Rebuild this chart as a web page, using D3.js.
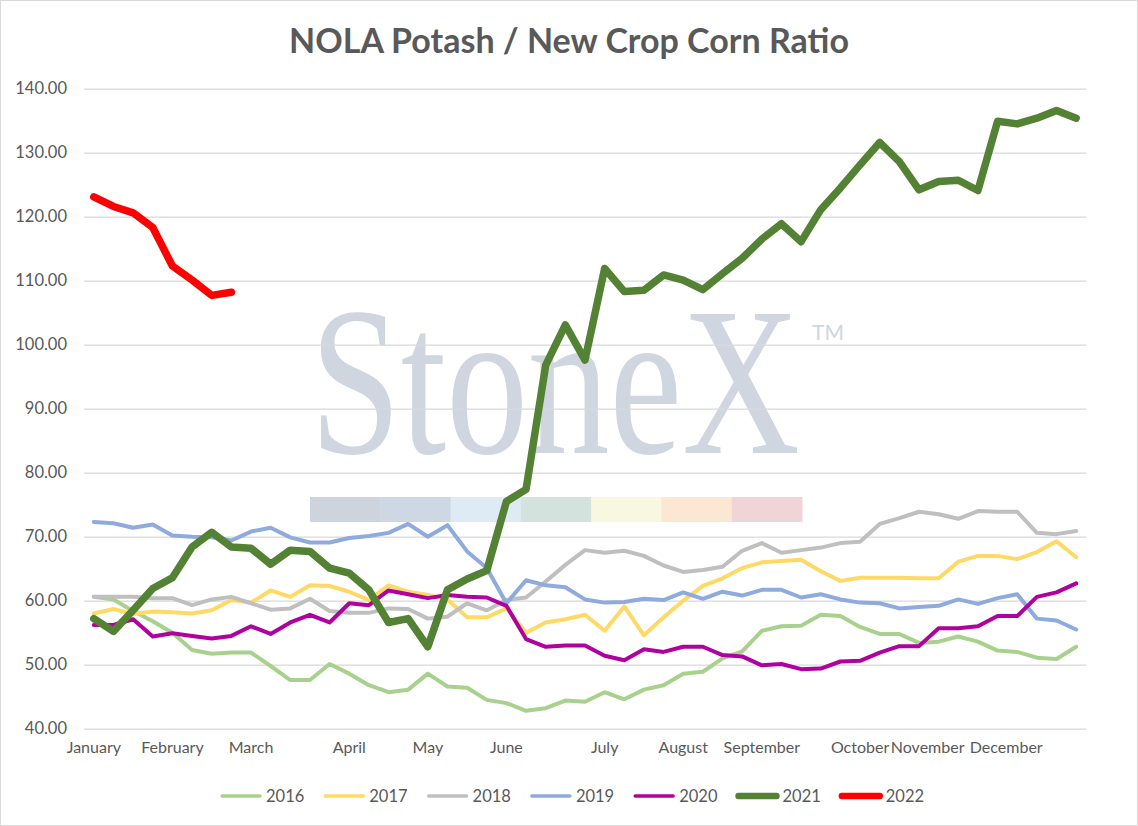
<!DOCTYPE html>
<head>
  <script src="https://d3js.org/d3.v7.min.js"></script>
  <style>
    body {
      margin: 0;
      overflow: hidden;
      background: #fff;
    }
    text {
      font-family: Lato, 'Liberation Sans', sans-serif;
      fill: #595959;
    }
  </style>
</head>
<body>
  <svg width="1138" height="826"></svg>
  <script>
    // weekly categories, month name on the first week of each month
    const weeks = [
      'January', '', '', '', 'February', '', '', '', 'March', '', '', '', '',
      'April', '', '', '', 'May', '', '', '', 'June', '', '', '', '',
      'July', '', '', '', 'August', '', '', '', 'September', '', '', '', '',
      'October', '', '', '', 'November', '', '', '', 'December', '', '', ''
    ];

    const years = ['2016', '2017', '2018', '2019', '2020', '2021', '2022'];

    const y2016 = [60.6, 60.2, 58.4, 56.8, 55.0, 52.3, 51.7, 51.9, 51.9, 49.8, 47.6, 47.6, 50.1,
      48.6, 46.8, 45.7, 46.1, 48.6, 46.6, 46.4, 44.5, 44.0, 42.8, 43.2, 44.4, 44.2, 45.7,
      44.6, 46.1, 46.8, 48.6, 48.9, 51.0, 52.1, 55.3, 56.0, 56.1, 57.8, 57.6, 55.9, 54.8,
      54.8, 53.4, 53.6, 54.4, 53.6, 52.2, 52.0, 51.1, 50.9, 52.8];
    const y2017 = [58.0, 58.7, 57.9, 58.3, 58.2, 58.0, 58.5, 60.1, 59.7, 61.6, 60.6, 62.4, 62.3,
      61.4, 60.1, 62.4, 61.4, 60.9, 60.2, 57.4, 57.4, 58.8, 55.0, 56.6, 57.1, 57.8, 55.3,
      59.1, 54.6, 57.4, 60.0, 62.3, 63.5, 65.1, 66.0, 66.2, 66.4, 64.6, 63.1, 63.6, 63.6,
      63.6, 63.5, 63.5, 66.1, 67.0, 67.0, 66.5, 67.6, 69.3, 66.8];
    const y2018 = [60.6, 60.6, 60.6, 60.4, 60.4, 59.3, 60.2, 60.6, 59.6, 58.6, 58.8, 60.3, 58.4,
      58.1, 58.1, 58.8, 58.7, 57.2, 57.5, 59.6, 58.5, 60.1, 60.5, 63.0, 65.6, 67.9, 67.5,
      67.8, 67.0, 65.5, 64.5, 64.8, 65.3, 67.8, 69.0, 67.5, 67.9, 68.3, 69.0, 69.2, 72.0,
      72.9, 73.9, 73.5, 72.8, 74.0, 73.9, 73.9, 70.6, 70.4, 70.9];
    const y2019 = [72.3, 72.1, 71.4, 71.9, 70.2, 70.0, 69.9, 69.4, 70.8, 71.4, 69.9, 69.1, 69.1,
      69.8, 70.1, 70.6, 72.0, 70.0, 71.8, 67.7, 65.1, 59.6, 63.2, 62.4, 62.1, 60.2, 59.7,
      59.8, 60.3, 60.1, 61.3, 60.3, 61.4, 60.8, 61.7, 61.7, 60.5, 61.0, 60.2, 59.7, 59.6,
      58.8, 59.0, 59.2, 60.2, 59.5, 60.4, 61.0, 57.2, 56.9, 55.5];
    const y2020 = [56.2, 56.2, 57.1, 54.4, 54.9, 54.5, 54.1, 54.5, 56.0, 54.8, 56.6, 57.8, 56.6,
      59.6, 59.3, 61.6, 61.0, 60.4, 60.9, 60.6, 60.5, 59.2, 54.0, 52.8, 53.0, 53.0, 51.4,
      50.7, 52.4, 52.0, 52.8, 52.8, 51.5, 51.3, 49.9, 50.1, 49.3, 49.4, 50.5, 50.6, 51.9,
      52.9, 52.9, 55.7, 55.7, 56.0, 57.6, 57.6, 60.6, 61.3, 62.7];
    const y2021 = [57.2, 55.2, 58.5, 61.9, 63.6, 68.4, 70.7, 68.4, 68.2, 65.7, 67.9, 67.7, 65.1,
      64.3, 61.7, 56.6, 57.2, 52.8, 61.7, 63.4, 64.7, 75.5, 77.4, 96.8, 103.1, 97.6, 111.9,
      108.3, 108.5, 110.9, 110.1, 108.6, 111.1, 113.5, 116.5, 118.9, 116.1, 121.1, 124.5, 128.1, 131.6,
      128.6, 124.2, 125.5, 125.7, 124.1, 134.9, 134.5, 135.4, 136.6, 135.4];
    const y2022 = [123.1, 121.6, 120.6, 118.3, 112.3, 110.1, 107.7, 108.2];

    const yTicks = [40, 50, 60, 70, 80, 90, 100, 110, 120, 130, 140];

    const seriesValues = [y2016, y2017, y2018, y2019, y2020, y2021, y2022];
    const colors = ['#a9d18e', '#ffd966', '#bfbfbf', '#8faadc', '#b0009f', '#548235', '#ff0000'];
    const widths = [4, 4, 4, 4, 4, 7.5, 7.5];
    const bandColors = ['#cdd4de', '#ced8e5', '#deeaf4', '#d3e2dc', '#f8f7e0', '#fbe7d2', '#f0d4d8'];

    const svg = d3.select('svg');
    const width = +svg.attr('width');
    const height = +svg.attr('height');

    svg.append('rect')
      .attr('x', 0.5).attr('y', 0.5)
      .attr('width', width - 1).attr('height', height - 1)
      .attr('fill', '#fff')
      .attr('stroke', '#d9d9d9');

    const xScale = d3.scaleBand()
      .domain(d3.range(weeks.length))
      .range([84, 1086]);
    const xPos = i => xScale(i) + xScale.bandwidth() / 2;

    const yScale = d3.scaleLinear()
      .domain([40, 140])
      .range([728.7, 88.7]);

    // watermark - squeeze the serif word into the logo box
    const wm = svg.append('g');
    const logo = wm.append('text')
      .style('font-family', "'Liberation Serif', 'DejaVu Serif', serif")
      .style('font-size', '212px')
      .style('fill', '#cfd6df')
      .text('StoneX');
    const logoW = logo.node().getComputedTextLength();
    logo.attr('transform', `translate(310,453) scale(${490 / logoW},1)`);
    wm.append('text')
      .attr('x', 812).attr('y', 340)
      .style('font-size', '21px')
      .style('fill', '#cfd6df')
      .text('TM');
    const bandW = (802 - 310) / bandColors.length;
    wm.selectAll('rect').data(bandColors)
      .enter().append('rect')
        .attr('x', (d, i) => 310 + i * bandW)
        .attr('y', 497)
        .attr('width', bandW + 0.5)
        .attr('height', 25)
        .attr('fill', d => d);

    // gridlines + y labels
    const yAxisG = svg.append('g')
      .attr('transform', 'translate(84,0)')
      .call(d3.axisLeft(yScale)
        .tickValues(yTicks)
        .tickFormat(d3.format('.2f'))
        .tickSize(-(1086 - 84))
        .tickPadding(17));
    yAxisG.select('.domain').remove();
    yAxisG.selectAll('.tick line')
      .attr('stroke', '#d9d9d9')
      .attr('stroke-width', 1.3);
    yAxisG.selectAll('.tick text')
      .style('font-size', '16.5px')
      .style('fill', '#595959');

    // x labels
    const monthShift = { November: -11, December: -11 };
    const xAxisG = svg.append('g')
      .attr('transform', 'translate(0,728.7)')
      .call(d3.axisBottom(xScale)
        .tickFormat(i => weeks[i])
        .tickSize(0)
        .tickPadding(13));
    xAxisG.select('.domain').remove();
    xAxisG.selectAll('.tick text')
      .style('font-size', '16px')
      .style('fill', '#595959')
      .attr('dx', i => monthShift[weeks[i]] || 0);

    // lines
    const line = d3.line()
      .x((d, i) => xPos(i))
      .y(d => yScale(d));

    svg.append('g').selectAll('path').data(seriesValues)
      .enter().append('path')
        .attr('d', d => line(d))
        .attr('fill', 'none')
        .attr('stroke', (d, i) => colors[i])
        .attr('stroke-width', (d, i) => widths[i])
        .attr('stroke-linejoin', 'round')
        .attr('stroke-linecap', 'round');

    // title
    svg.append('text')
      .attr('x', 569).attr('y', 53)
      .attr('text-anchor', 'middle')
      .style('font-size', '34px')
      .style('font-weight', 'bold')
      .text('NOLA Potash / New Crop Corn Ratio');

    // legend
    const legend = svg.append('g')
      .selectAll('g').data(years)
      .enter().append('g')
        .attr('transform', (d, i) => `translate(${220 + i * 103.3},796)`);
    legend.append('line')
      .attr('x1', 2).attr('x2', 40)
      .attr('stroke', (d, i) => colors[i])
      .attr('stroke-width', (d, i) => widths[i] * 0.85)
      .attr('stroke-linecap', 'round');
    legend.append('text')
      .attr('x', 46).attr('dy', '0.35em')
      .style('font-size', '16.5px')
      .text(d => d);
  </script>
</body>
